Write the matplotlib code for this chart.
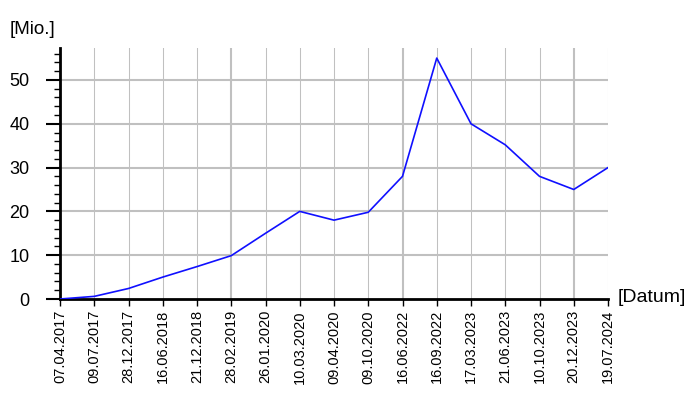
import numpy as np
import matplotlib.pyplot as plt
from matplotlib.ticker import MultipleLocator

plt.rcParams["font.family"] = ["Liberation Sans", "DejaVu Sans"]

# Data
dates = ["07.04.2017", "09.07.2017", "28.12.2017", "16.06.2018", "21.12.2018",
         "28.02.2019", "26.01.2020", "10.03.2020", "09.04.2020", "09.10.2020",
         "16.06.2022", "16.09.2022", "17.03.2023", "21.06.2023", "10.10.2023",
         "20.12.2023", "19.07.2024"]
values = [0, 0.6, 2.4, 5, 7.4, 9.9, 15, 20, 18, 19.8,
          28, 55, 40, 35.2, 28, 25, 30]

x = np.arange(len(dates))

fig = plt.figure(figsize=(7, 4), dpi=100)
ax = fig.add_axes([60 / 700, 1 - 299 / 400, 548 / 700, 251 / 400])

grid_col = "#c0c0c0"

# Vertical grid: every category, thicker every 5th
for i in x:
    lw = 2.0 if i % 5 == 0 else 1.0
    ax.axvline(i, color=grid_col, lw=lw * 0.75, zorder=0)

# Horizontal grid every 10
for v in range(10, 60, 10):
    ax.axhline(v, color=grid_col, lw=1.5, zorder=0)

ax.plot(x, values, color="#1010ff", lw=1.2, zorder=3)

ax.set_xlim(0, len(dates) - 1)
ax.set_ylim(0, 57.3)

ax.set_xticks(x)
ax.set_xticklabels(dates, rotation=90, fontsize=10.5)
ax.yaxis.set_major_locator(MultipleLocator(10))
ax.yaxis.set_minor_locator(MultipleLocator(2))
ax.tick_params(axis="y", which="major", length=10, width=1.5, labelsize=13, pad=12)
ax.tick_params(axis="y", which="minor", length=4, width=1)
ax.tick_params(axis="x", which="major", length=5, width=1, pad=3)

for s in ["top", "right"]:
    ax.spines[s].set_visible(False)
for s in ["left", "bottom"]:
    ax.spines[s].set_linewidth(2)
    ax.spines[s].set_color("black")

fig.text(10 / 700, 1 - 30 / 400, "[Mio.]", fontsize=13.5, ha="left", va="center")
fig.text(618 / 700, 1 - 298 / 400, "[Datum]", fontsize=14, ha="left", va="center")

fig.savefig("out.png", dpi=100)
